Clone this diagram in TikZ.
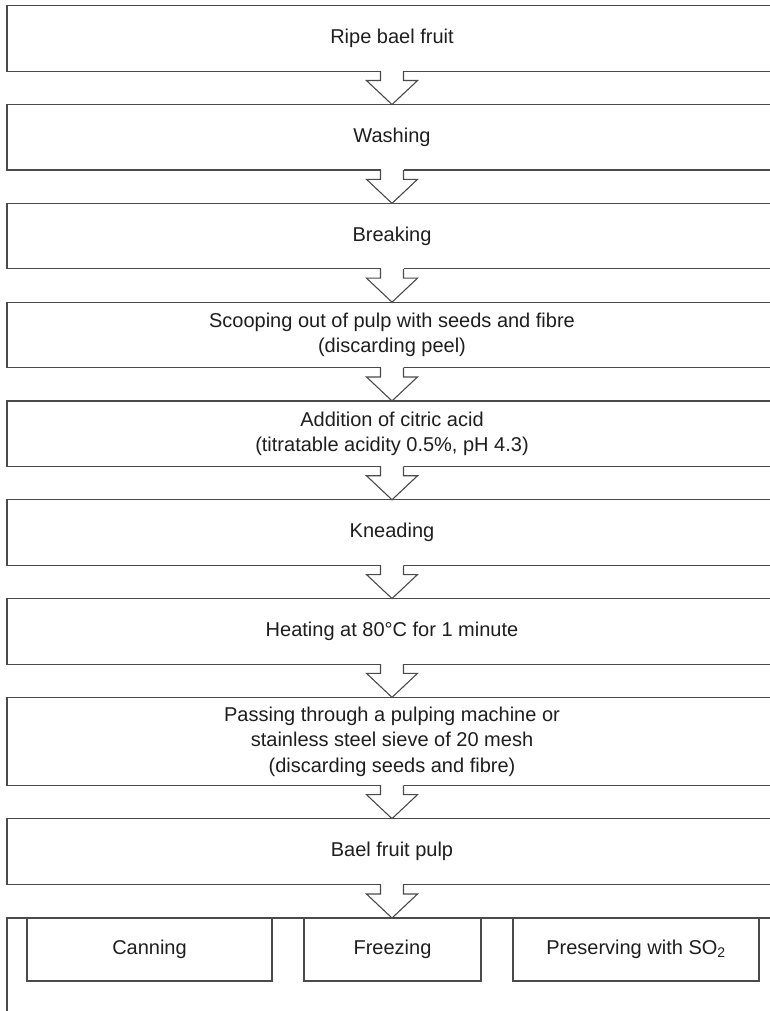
\documentclass[tikz,border=0pt]{standalone}
\usepackage{fontspec}
\setmainfont{Liberation Sans}
\usepackage{tikz}
\usetikzlibrary{positioning,calc}
\definecolor{edge}{HTML}{4A4A4A}
\definecolor{ink}{HTML}{1E1E1E}

% hollow block arrow from one box to the next
\newcommand{\flowarrow}[2]{%
  \fill[white] ($(#1.south)+(-11.5,-1.5)$) rectangle ($(#1.south)+(11.5,1.5)$);
  \draw[edge,line width=1.1pt,line join=miter] ($(#1.south)+(-11.5,0)$) |- ($(#2.north)+(-25.5,-24)$)
    -- (#2.north) -- ($(#2.north)+(25.5,-24)$) -| ($(#1.south)+(11.5,0)$);}

\begin{document}
\begin{tikzpicture}[x=1pt,y=-1pt,node distance=33.3pt,
    every node/.style={font=\fontsize{20}{25.5}\selectfont,text=ink},
    stepbox/.style={draw=edge,line width=1.1pt,minimum width=770pt,minimum height=65.5pt,
      align=center,inner sep=0pt,outer sep=0pt},
    storebox/.style={draw=edge,line width=1.1pt,minimum height=63pt,inner sep=0pt,outer sep=0pt}]
    \useasboundingbox (0,0) rectangle (770,1011);
    \clip (0,0) rectangle (770,1011);
    % Process steps
    \node[stepbox] (ripe) at (392,38.5) {Ripe bael fruit};
    \node[stepbox,below=of ripe] (wash) {Washing};
    \node[stepbox,below=of wash] (break) {Breaking};
    \node[stepbox,below=of break] (scoop) {Scooping out of pulp with seeds and fibre\\(discarding peel)};
    \node[stepbox,below=of scoop] (acid) {Addition of citric acid\\(titratable acidity 0.5\%, pH 4.3)};
    \node[stepbox,below=of acid] (knead) {Kneading};
    \node[stepbox,below=of knead] (heat) {Heating at 80°C for 1 minute};
    \node[stepbox,below=of heat,minimum height=88pt] (sieve) {Passing through a pulping machine or\\stainless steel sieve of 20 mesh\\(discarding seeds and fibre)};
    \node[stepbox,below=of sieve] (pulp) {Bael fruit pulp};
    % Storage options
    \node[stepbox,anchor=north,minimum height=150pt] (store) at (392,918) {};
    \node[storebox,anchor=north,minimum width=245pt] (can) at (149.5,918) {Canning};
    \node[storebox,anchor=north,minimum width=177pt] (freeze) at (392.5,918) {Freezing};
    \node[storebox,anchor=north,minimum width=246pt] (so2) at (636,918) {Preserving with SO\textsubscript{2}};
    % Arrows
    \flowarrow{ripe}{wash}
    \flowarrow{wash}{break}
    \flowarrow{break}{scoop}
    \flowarrow{scoop}{acid}
    \flowarrow{acid}{knead}
    \flowarrow{knead}{heat}
    \flowarrow{heat}{sieve}
    \flowarrow{sieve}{pulp}
    \flowarrow{pulp}{store}
\end{tikzpicture}
\end{document}
